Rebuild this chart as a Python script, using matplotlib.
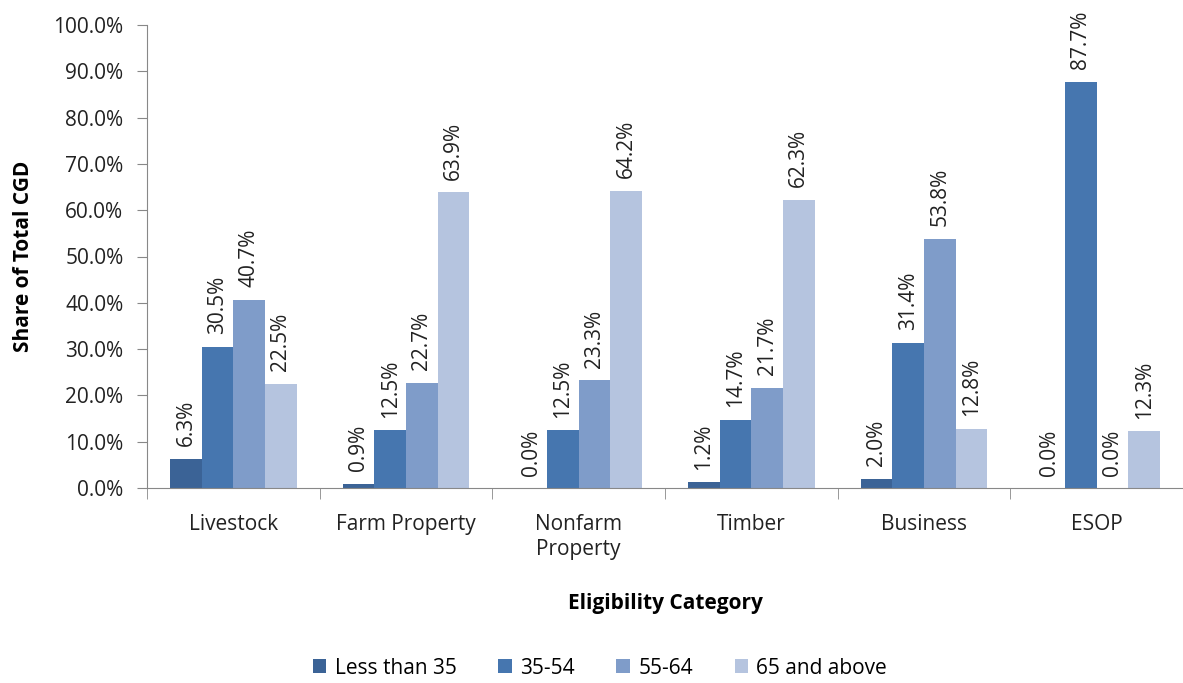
import matplotlib
matplotlib.use("Agg")
from matplotlib import pyplot as plt
import numpy as np

categories = ["Livestock", "Farm Property", "Nonfarm\nProperty", "Timber", "Business", "ESOP"]
series = ["Less than 35", "35-54", "55-64", "65 and above"]
less_35 = [6.3, 0.9, 0.0, 1.2, 2.0, 0.0]
age_35_54 = [30.5, 12.5, 12.5, 14.7, 31.4, 87.7]
age_55_64 = [40.7, 22.7, 23.3, 21.7, 53.8, 0.0]
over_65 = [22.5, 63.9, 64.2, 62.3, 12.8, 12.3]
colors = ["#3B6396", "#4676AF", "#7F9CC9", "#B5C4DF"]

plt.rcParams['font.family'] = ['Open Sans', 'DejaVu Sans']
FS = 15

fig = plt.figure(figsize=(11.83, 6.83), dpi=100)
ax = fig.add_axes([147 / 1183, 1 - 488 / 683, (1183 - 147) / 1183, (488 - 25) / 683])

x = np.arange(len(categories))
w = 0.183
data = [less_35, age_35_54, age_55_64, over_65]
for i, (name, vals, c) in enumerate(zip(series, data, colors)):
    pos = x + (i - 1.5) * w
    ax.bar(pos, vals, width=w, color=c, label=name)
    for p, v in zip(pos, vals):
        ax.annotate(f"{v:.1f}%", (p, v), xytext=(0, 9), textcoords="offset points",
                    rotation=90, ha="center", va="bottom", fontsize=FS, color="#222222")

ax.set_xlim(-0.5, len(categories) - 0.5)
ax.set_ylim(0, 100)
ax.set_yticks(np.arange(0, 101, 10))
ax.set_yticklabels([f"{t:.1f}%" for t in np.arange(0, 101, 10)], fontsize=FS, color="#222222")
ax.set_xticks(x)
ax.set_xticklabels(categories, fontsize=FS, color="#222222", linespacing=1.2)
ax.tick_params(axis="x", length=0, pad=19)
ax.set_xticks(np.arange(-0.5, len(categories)), minor=True)
ax.tick_params(axis="x", which="minor", length=8, color="#888888")
ax.tick_params(axis="y", length=7, color="#888888", pad=10)

for s in ["top", "right"]:
    ax.spines[s].set_visible(False)
for s in ["left", "bottom"]:
    ax.spines[s].set_color("#888888")

ax.set_ylabel("Share of Total CGD", fontsize=FS, fontweight="bold", labelpad=14)
ax.set_xlabel("Eligibility Category", fontsize=FS, fontweight="bold", labelpad=24)

fig.legend(loc="center", bbox_to_anchor=(600 / 1183, 1 - 668 / 683), ncol=4, frameon=False,
           fontsize=FS, handlelength=0.65, handleheight=0.65, handletextpad=0.4, columnspacing=2.0)

fig.savefig("out.png", dpi=100)
